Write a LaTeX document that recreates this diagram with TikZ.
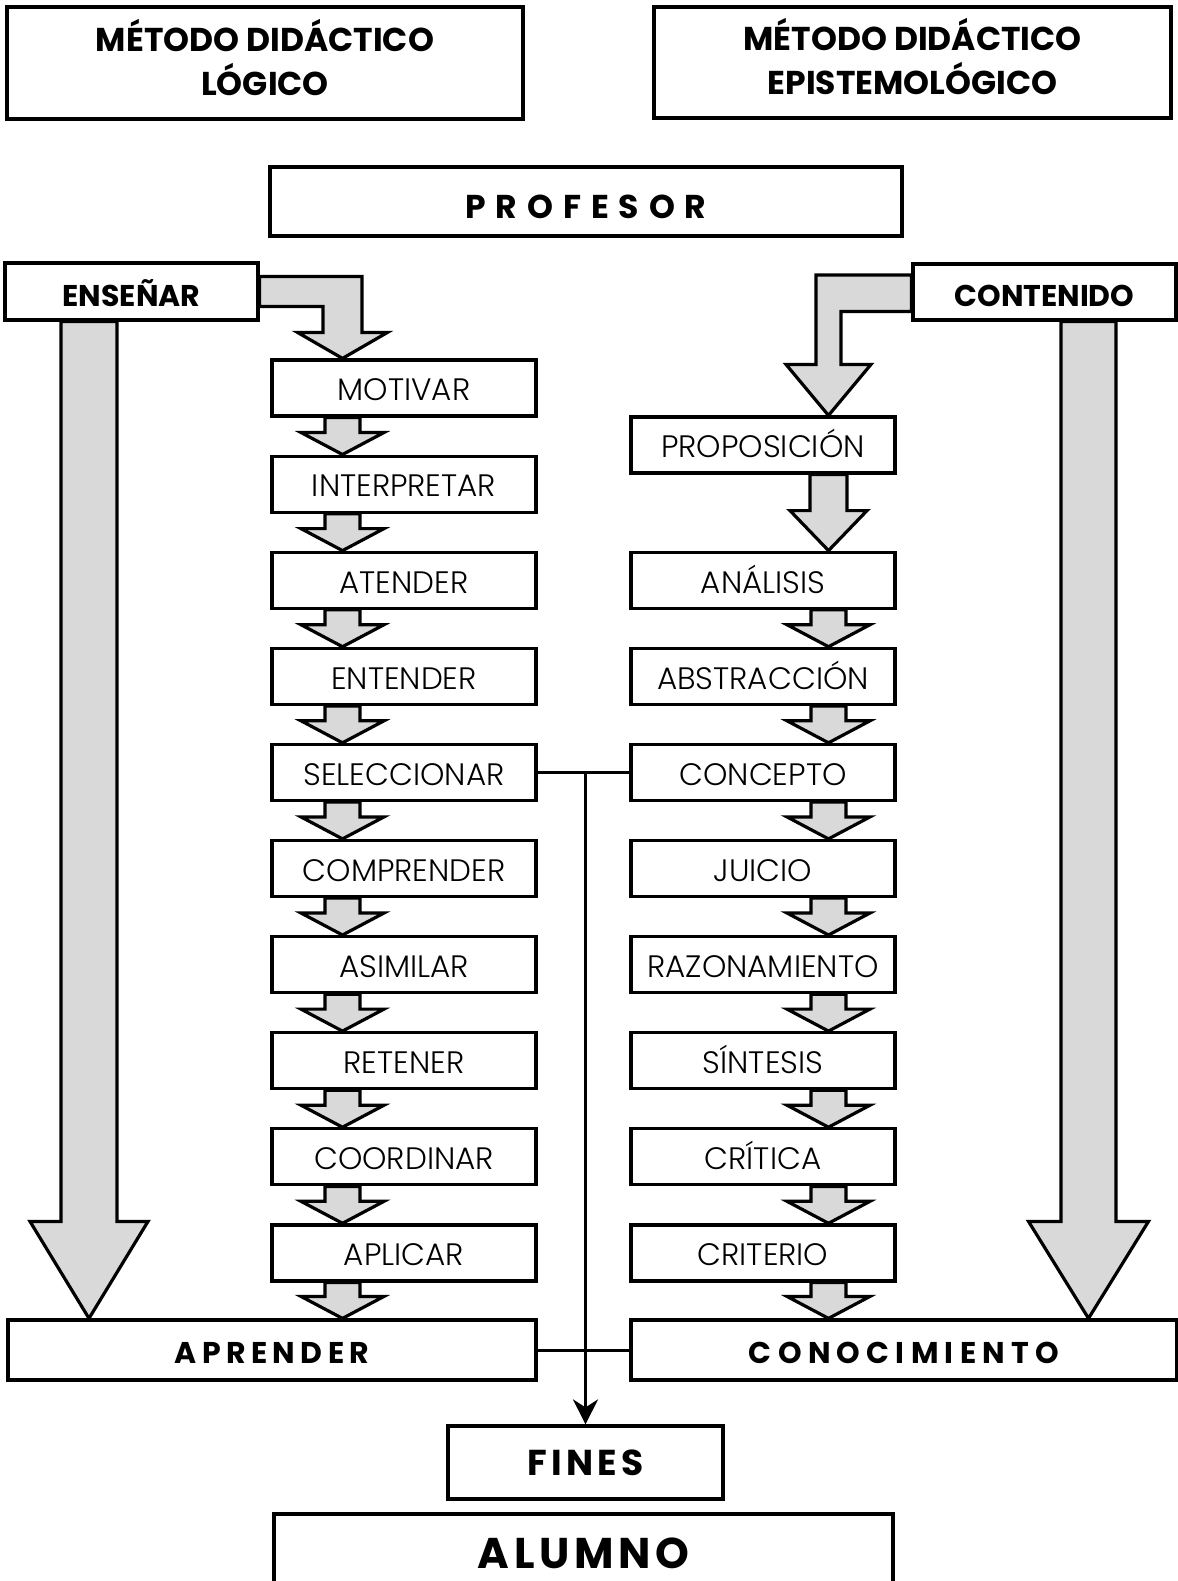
\documentclass[tikz,border=0pt]{standalone}
\usepackage{fontspec}
\setmainfont{Poppins}[UprightFont=* Light, BoldFont=* Bold]
\usetikzlibrary{calc,arrows.meta}
\definecolor{arrowgray}{RGB}{217,217,217}
\pgfdeclarelayer{background}
\pgfsetlayers{background,main}

% broad grey arrow pointing down from one box to the next, on a given axis
% #1 from node, #2 to node, #3 axis coordinate, #4 shaft half width,
% #5 head half width, #6 head length
\newcommand\fatdown[6]{%
  \draw[fat] let \p1=(#1.south -| #3), \p2=(#2.north -| #3) in
    (\x1-#4,\y1) -- (\x1+#4,\y1) -- (\x1+#4,\y2+#6) -- (\x1+#5,\y2+#6)
    -- (\x2,\y2) -- (\x1-#5,\y2+#6) -- (\x1-#4,\y2+#6) -- cycle;}

% two centred lines of a heading
\newcommand\twolines[2]{\raisebox{-3.3pt}{\begin{tabular}{@{}c@{}}#1\\#2\end{tabular}}}

\begin{document}
\begin{tikzpicture}[x=0.5pt,y=-0.5pt,
  box/.style={draw, line width=1.6pt, fill=white, inner sep=0pt,
    minimum width=132pt, minimum height=28pt,
    text height=12.8pt, text depth=0pt,
    font=\fontsize{15.5}{18}\selectfont},
  hdr/.style={box, text height=, text depth=,
    font=\fontsize{16.5}{20}\selectfont\bfseries},
  tagbox/.style={box, text height=14.5pt, text depth=0pt,
    font=\fontsize{15}{18}\selectfont\bfseries},
  spaced/.style 2 args={box, text height=0.7*#1 pt + 3pt, text depth=0pt,
    font=\fontsize{#1}{#1}\selectfont\bfseries\addfontfeature{LetterSpace=#2}},
  fat/.style={draw, line width=1.6pt, fill=arrowgray, line join=miter},
  conn/.style={draw, line width=1.5pt},
]
\useasboundingbox (0,0) rectangle (1178,1581);
\clip (0,0) rectangle (1178,1581);

% axes of the grey arrows
\coordinate (axL) at (342.5,0);
\coordinate (axR) at (828.5,0);
\coordinate (axEL) at (89,0);
\coordinate (axER) at (1088.5,0);

% headings
\node[hdr, minimum width=258pt, minimum height=56pt] (mlog) at (265,63)
  {\twolines{MÉTODO DIDÁCTICO}{LÓGICO}};
\node[hdr, minimum width=258.5pt, minimum height=55.5pt] (mepi) at (912.5,62.5)
  {\twolines{MÉTODO DIDÁCTICO}{EPISTEMOLÓGICO}};
\node[spaced={16.5}{30}, text height=16.5pt, minimum width=316pt, minimum height=34.5pt]
  (prof) at (586,201.5) {PROFESOR};

\node[tagbox, minimum width=126.5pt, minimum height=28.5pt] (ens) at (131.5,291.5) {ENSEÑAR};
\node[tagbox, minimum width=131.5pt, minimum height=28pt] (cont) at (1044.5,292) {CONTENIDO};

% left column: teaching steps
\node[box] (l0) at (404,388)    {MOTIVAR};
\node[box] (l1) at (404,484.1)  {INTERPRETAR};
\node[box] (l2) at (404,580.2)  {ATENDER};
\node[box] (l3) at (404,676.3)  {ENTENDER};
\node[box] (l4) at (404,772.4)  {SELECCIONAR};
\node[box] (l5) at (404,868.5)  {COMPRENDER};
\node[box] (l6) at (404,964.6)  {ASIMILAR};
\node[box] (l7) at (404,1060.7) {RETENER};
\node[box] (l8) at (404,1156.8) {COORDINAR};
\node[box] (l9) at (404,1252.9) {APLICAR};

% right column: content steps
\node[box] (r1) at (763,445)    {PROPOSICIÓN};
\node[box] (r2) at (763,580.2)  {ANÁLISIS};
\node[box] (r3) at (763,676.3)  {ABSTRACCIÓN};
\node[box] (r4) at (763,772.4)  {CONCEPTO};
\node[box] (r5) at (763,868.5)  {JUICIO};
\node[box] (r6) at (763,964.6)  {RAZONAMIENTO};
\node[box] (r7) at (763,1060.7) {SÍNTESIS};
\node[box] (r8) at (763,1156.8) {CRÍTICA};
\node[box] (r9) at (763,1252.9) {CRITERIO};

% results
\node[spaced={15}{18}, minimum width=264pt, minimum height=30pt] (apr) at (272,1350) {APRENDER};
\node[spaced={15}{21}, minimum width=273pt, minimum height=30pt] (cono) at (904,1350) {CONOCIMIENTO};
\node[spaced={18}{12}, text height=12.6pt, minimum width=137.5pt, minimum height=36.5pt] (fin) at (585.5,1462.5) {FINES};
\node[spaced={21.5}{11}, text height=15pt, minimum width=309.5pt, minimum height=39pt] (alu) at (583.5,1553) {ALUMNO};

\coordinate (j1) at (l4.east -| fin.north);

\begin{pgfonlayer}{background}
  % ENSEÑAR to MOTIVAR (elbow)
  \draw[fat] let \p1=(ens.east), \p2=(l0.north -| axL) in
    (\x1,\y1+7.5pt) -- (\x2+9.75pt,\y1+7.5pt) -- (\x2+9.75pt,\y2+13pt)
    -- (\x2+22.5pt,\y2+13pt) -- (\x2,\y2) -- (\x2-22.5pt,\y2+13pt)
    -- (\x2-9.75pt,\y2+13pt) -- (\x2-9.75pt,\y1-7.5pt) -- (\x1,\y1-7.5pt) -- cycle;
  % CONTENIDO to PROPOSICIÓN (elbow)
  \draw[fat] let \p1=(cont.west), \p2=(r1.north -| axR) in
    (\x1,\y1+8.5pt) -- (\x2-6.25pt,\y1+8.5pt) -- (\x2-6.25pt,\y2+25.5pt)
    -- (\x2-21.25pt,\y2+25.5pt) -- (\x2,\y2) -- (\x2+21.25pt,\y2+25.5pt)
    -- (\x2+6.25pt,\y2+25.5pt) -- (\x2+6.25pt,\y1-9.75pt) -- (\x1,\y1-9.75pt) -- cycle;
  % long arrows at the sides
  \fatdown{ens}{apr}{axEL}{14pt}{29.5pt}{48.5pt}
  \fatdown{cont}{cono}{axER}{13.75pt}{30pt}{48.5pt}
  % steps of the left column
  \fatdown{l0}{l1}{axL}{8.75pt}{20.75pt}{11pt}
  \fatdown{l1}{l2}{axL}{8.75pt}{20.75pt}{11pt}
  \fatdown{l2}{l3}{axL}{8.75pt}{20.75pt}{11pt}
  \fatdown{l3}{l4}{axL}{8.75pt}{20.75pt}{11pt}
  \fatdown{l4}{l5}{axL}{8.75pt}{20.75pt}{11pt}
  \fatdown{l5}{l6}{axL}{8.75pt}{20.75pt}{11pt}
  \fatdown{l6}{l7}{axL}{8.75pt}{20.75pt}{11pt}
  \fatdown{l7}{l8}{axL}{8.75pt}{20.75pt}{11pt}
  \fatdown{l8}{l9}{axL}{8.75pt}{20.75pt}{11pt}
  \fatdown{l9}{apr}{axL}{8.75pt}{20.75pt}{11pt}
  % steps of the right column
  \fatdown{r1}{r2}{axR}{9.25pt}{19.25pt}{20pt}
  \fatdown{r2}{r3}{axR}{8.75pt}{20.75pt}{11pt}
  \fatdown{r3}{r4}{axR}{8.75pt}{20.75pt}{11pt}
  \fatdown{r4}{r5}{axR}{8.75pt}{20.75pt}{11pt}
  \fatdown{r5}{r6}{axR}{8.75pt}{20.75pt}{11pt}
  \fatdown{r6}{r7}{axR}{8.75pt}{20.75pt}{11pt}
  \fatdown{r7}{r8}{axR}{8.75pt}{20.75pt}{11pt}
  \fatdown{r8}{r9}{axR}{8.75pt}{20.75pt}{11pt}
  \fatdown{r9}{cono}{axR}{8.75pt}{20.75pt}{11pt}
  % thin connectors
  \draw[conn] (l4.east) -- (r4.west);
  \draw[conn] (apr.east) -- (cono.west);
  \draw[conn, -{Stealth[length=12.5pt, width=12.5pt, inset=4pt]}] (j1) -- (fin.north);
\end{pgfonlayer}
\end{tikzpicture}
\end{document}
